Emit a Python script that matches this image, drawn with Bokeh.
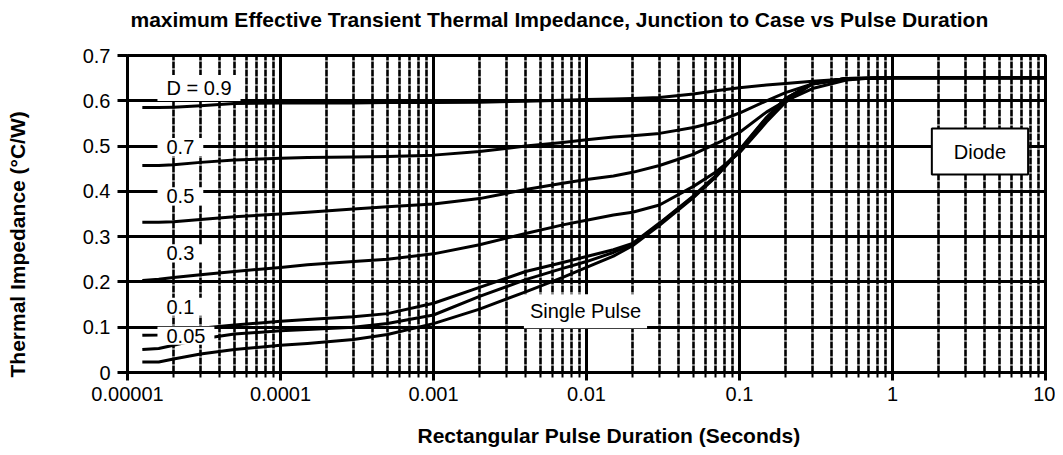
from bokeh.plotting import figure
from bokeh.models import Range1d, FixedTicker, Label, Title, CustomJSTickFormatter
from bokeh.embed import file_html
from bokeh.resources import INLINE

# ---------------- data ----------------
t = [1.25e-5, 1.6e-5, 2e-5, 3e-5, 5e-5, 1e-4, 1.5e-4, 3e-4, 5e-4, 1e-3, 2e-3, 4e-3, 7e-3,
     1e-2, 1.5e-2, 2e-2, 3e-2, 5e-2, 7e-2, 0.1, 0.15, 0.2, 0.3, 0.5, 0.7, 1.0, 10.0]

d090 = [0.585, 0.585, 0.586, 0.589, 0.594, 0.595, 0.595, 0.595, 0.596, 0.596, 0.597, 0.599, 0.601,
        0.603, 0.604, 0.605, 0.607, 0.615, 0.622, 0.629, 0.635, 0.638, 0.643, 0.648, 0.650, 0.651, 0.651]
d070 = [0.457, 0.457, 0.459, 0.464, 0.469, 0.473, 0.475, 0.476, 0.477, 0.480, 0.488, 0.500, 0.508,
        0.514, 0.520, 0.523, 0.528, 0.541, 0.553, 0.573, 0.600, 0.618, 0.637, 0.648, 0.650, 0.651, 0.651]
d050 = [0.332, 0.332, 0.333, 0.338, 0.344, 0.350, 0.354, 0.361, 0.366, 0.372, 0.384, 0.404, 0.418,
        0.426, 0.434, 0.442, 0.457, 0.482, 0.505, 0.530, 0.575, 0.600, 0.627, 0.646, 0.650, 0.651, 0.651]
d030 = [0.203, 0.206, 0.210, 0.216, 0.223, 0.232, 0.238, 0.245, 0.250, 0.262, 0.282, 0.307, 0.326,
        0.336, 0.348, 0.354, 0.370, 0.411, 0.443, 0.485, 0.553, 0.597, 0.638, 0.649, 0.650, 0.651, 0.651]
d010 = [0.082, 0.083, 0.088, 0.098, 0.105, 0.113, 0.117, 0.123, 0.130, 0.153, 0.188, 0.223, 0.243,
        0.256, 0.271, 0.285, 0.330, 0.390, 0.435, 0.492, 0.563, 0.605, 0.638, 0.649, 0.650, 0.651, 0.651]
d005 = [0.051, 0.053, 0.060, 0.074, 0.085, 0.092, 0.095, 0.100, 0.108, 0.127, 0.168, 0.205, 0.230,
        0.245, 0.265, 0.283, 0.328, 0.388, 0.433, 0.490, 0.562, 0.605, 0.638, 0.649, 0.650, 0.651, 0.651]
single = [0.023, 0.023, 0.030, 0.041, 0.051, 0.060, 0.064, 0.073, 0.084, 0.108, 0.140, 0.178, 0.210,
          0.232, 0.257, 0.280, 0.325, 0.386, 0.432, 0.489, 0.561, 0.604, 0.637, 0.649, 0.650, 0.651, 0.651]

series = [d090, d070, d050, d030, d010, d005, single]

curve_labels = ["D = 0.9", "0.7", "0.5", "0.3", "0.1", "0.05"]
curve_label_y = [0.628, 0.498, 0.389, 0.263, 0.145, 0.081]

x_ticks = [1e-5, 1e-4, 1e-3, 1e-2, 1e-1, 1.0, 10.0]
x_tick_labels = ["0.00001", "0.0001", "0.001", "0.01", "0.1", "1", "10"]
y_ticks = [0.0, 0.1, 0.2, 0.3, 0.4, 0.5, 0.6, 0.7]
y_tick_labels = ["0", "0.1", "0.2", "0.3", "0.4", "0.5", "0.6", "0.7"]

title_text = "maximum Effective Transient Thermal Impedance, Junction to Case vs Pulse Duration"
x_title = "Rectangular Pulse Duration  (Seconds)"
y_title = "Thermal Impedance (°C/W)"

FONT = "Liberation Sans"

# ---------------- figure ----------------
p = figure(x_axis_type="log", x_range=Range1d(1e-5, 10), y_range=Range1d(0, 0.7),
           frame_width=918, frame_height=317,
           min_border_left=127, min_border_right=10, min_border_top=55, min_border_bottom=75,
           output_backend="svg", toolbar_location=None, background_fill_color="white",
           border_fill_color="white")

minor = [k * 10.0 ** e for e in range(-5, 1) for k in range(2, 10)]
p.xaxis.ticker = FixedTicker(ticks=x_ticks, minor_ticks=minor)
p.yaxis.ticker = FixedTicker(ticks=y_ticks, minor_ticks=[])

p.xaxis.formatter = CustomJSTickFormatter(args=dict(vals=x_ticks, labels=x_tick_labels), code="""
let best = 0, bd = 1e9;
for (let i = 0; i < vals.length; i++) {
  const d = Math.abs(Math.log10(tick) - Math.log10(vals[i]));
  if (d < bd) { bd = d; best = i; }
}
return labels[best];
""")
p.yaxis.formatter = CustomJSTickFormatter(args=dict(vals=y_ticks, labels=y_tick_labels), code="""
let best = 0, bd = 1e9;
for (let i = 0; i < vals.length; i++) {
  const d = Math.abs(tick - vals[i]);
  if (d < bd) { bd = d; best = i; }
}
return labels[best];
""")

for ax in (p.xaxis, p.yaxis):
    ax.axis_line_width = 3
    ax.axis_line_color = "black"
    ax.major_tick_line_width = 3
    ax.major_tick_line_color = "black"
    ax.major_tick_in = 0
    ax.major_label_text_font = FONT
    ax.major_label_text_font_size = "20px"
    ax.major_label_text_color = "black"
p.xaxis.major_tick_out = 8
p.xaxis.minor_tick_out = 5
p.xaxis.minor_tick_in = 0
p.xaxis.minor_tick_line_width = 2
p.xaxis.minor_tick_line_color = "black"
p.xaxis.major_label_standoff = 6
p.yaxis.major_tick_out = 10
p.yaxis.major_label_standoff = 7

p.outline_line_color = "black"
p.outline_line_width = 3
p.outline_line_alpha = 1.0

p.xgrid.grid_line_color = "black"
p.xgrid.grid_line_width = 3
p.xgrid.minor_grid_line_color = "black"
p.xgrid.minor_grid_line_width = 2.6
p.xgrid.minor_grid_line_dash = "7 1"
p.ygrid.grid_line_color = "black"
p.ygrid.grid_line_width = 3

# curves
for s in series:
    p.line(t, s, line_color="black", line_width=3, line_join="round")

# curve labels
for txt, yv in zip(curve_labels, curve_label_y):
    p.add_layout(Label(x=1.57e-5, y=yv, text=txt, text_align="left", text_baseline="middle",
                       text_font=FONT, text_font_size="20px", text_color="black",
                       background_fill_color="white", padding=(9, 2)))

p.add_layout(Label(x=9.85e-3, y=0.135, text="Single Pulse", text_align="center",
                   text_baseline="middle", text_font=FONT, text_font_size="20px",
                   text_color="black", background_fill_color="white", padding=(6, 6)))

p.add_layout(Label(x=3.73, y=0.488, text="Diode", text_align="center",
                   text_baseline="middle", text_font=FONT, text_font_size="20px",
                   text_color="black", background_fill_color="white",
                   border_line_color="black", border_line_width=2, padding=(22, 12)))

# ---------------- titles ----------------
# spacers (blank titles) push the real titles away from the frame
p.add_layout(Title(text=" ", text_font=FONT, text_font_size="20px", standoff=1), "above")
p.add_layout(Title(text=title_text, text_font=FONT, text_font_size="21px", text_font_style="bold",
                   text_color="black", align="left", offset=3, standoff=0), "above")

p.add_layout(Title(text=" ", text_font=FONT, text_font_size="12px", standoff=2), "below")
p.add_layout(Title(text=x_title, text_font=FONT, text_font_size="21px", text_font_style="bold",
                   text_color="black", align="left", offset=290, standoff=0), "below")

p.add_layout(Title(text=" ", text_font=FONT, text_font_size="20px", standoff=27), "left")
p.add_layout(Title(text=y_title, text_font=FONT, text_font_size="21px", text_font_style="bold",
                   text_color="black", align="left", offset=-5, standoff=0), "left")

open("out.html", "w").write(file_html(p, INLINE))
